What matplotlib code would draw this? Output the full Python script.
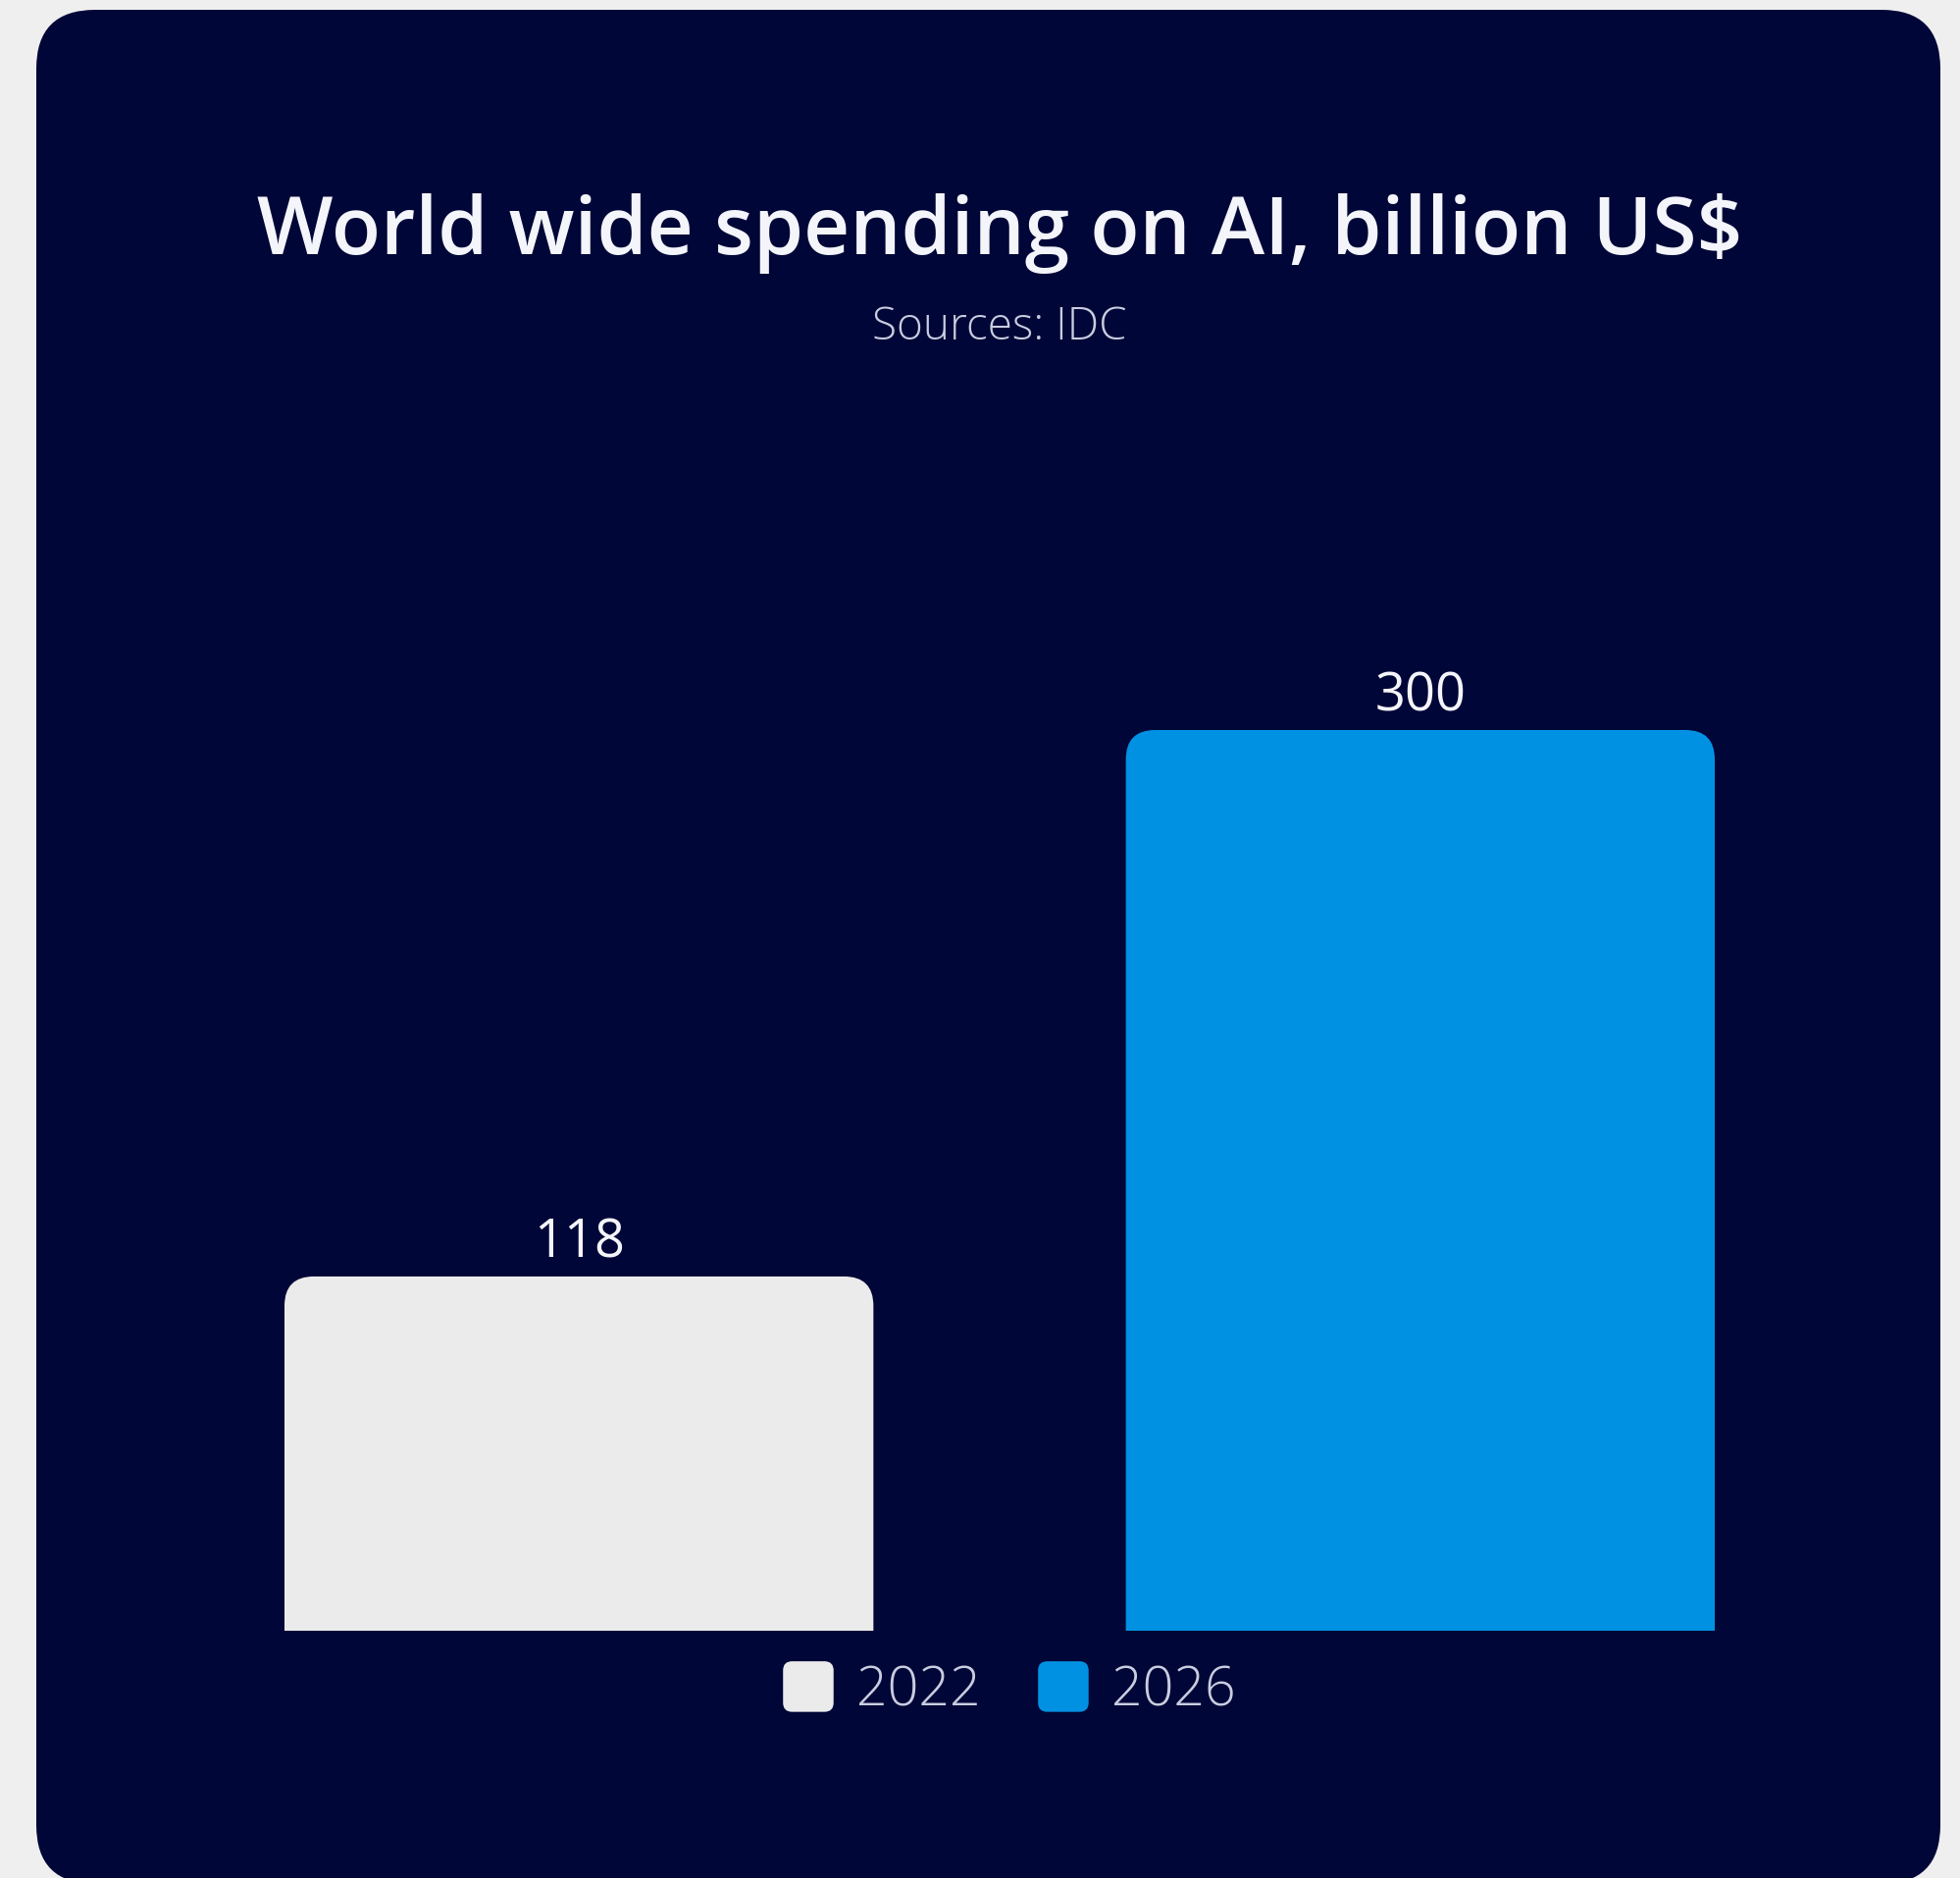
import matplotlib
matplotlib.use("Agg")
import matplotlib.pyplot as plt
from matplotlib.patches import FancyBboxPatch, PathPatch, Patch
from matplotlib.path import Path
from matplotlib.transforms import IdentityTransform
from matplotlib.legend_handler import HandlerPatch

# Data
years = ["2022", "2026"]
spending = [118, 300]
title = "World wide spending on AI, billion US$"
subtitle = "Sources: IDC"

# Style
PAGE_BG = "#efefef"
PANEL_BG = "#000637"
BAR_COLORS = ["#ebebeb", "#0091e3"]
TEXT_MAIN = "#f4f5fa"
TEXT_SOFT = "#c9cde0"
FONT = ["Open Sans", "DejaVu Sans"]

W, H = 1998, 1915
fig = plt.figure(figsize=(W / 100, H / 100), dpi=100)
fig.patch.set_facecolor(PAGE_BG)

# Rounded dark card behind everything
card = FancyBboxPatch((37, -6), 1978 - 37, H - 11 + 6,
                      boxstyle="round,pad=0,rounding_size=60",
                      facecolor=PANEL_BG, edgecolor="none",
                      transform=IdentityTransform(), zorder=0)
fig.add_artist(card)

fig.text(1019 / W, 1 - 238 / H, title, ha="center", va="center",
         color=TEXT_MAIN, fontsize=59, fontweight="semibold", family=FONT)
fig.text(1019 / W, 1 - 334 / H, subtitle, ha="center", va="center",
         color=TEXT_SOFT, fontsize=33, fontweight="light", family=FONT)

ax = fig.add_axes([290 / W, 252 / H, 1458 / W, 918 / H])
ax.set_facecolor("none")
ax.set_xlim(-0.35, 1.35)
ax.set_ylim(0, 300)
ax.axis("off")

x = list(range(len(years)))
bars = ax.bar(x, spending, width=0.70, color=BAR_COLORS, zorder=2)


def rounded_top(rect, radius):
    """Replace a bar rectangle with a path whose top corners are rounded."""
    x0, y0 = rect.get_x(), rect.get_y()
    x1, y1 = x0 + rect.get_width(), y0 + rect.get_height()
    (px0, py0), (px1, py1) = ax.transData.transform([[x0, y0], [x1, y1]])
    r = radius
    verts = [(px0, py0), (px0, py1 - r), (px0, py1), (px0 + r, py1),
             (px1 - r, py1), (px1, py1), (px1, py1 - r), (px1, py0), (px0, py0)]
    codes = [Path.MOVETO, Path.LINETO, Path.CURVE3, Path.CURVE3,
             Path.LINETO, Path.CURVE3, Path.CURVE3, Path.LINETO, Path.CLOSEPOLY]
    patch = PathPatch(Path(verts, codes), facecolor=rect.get_facecolor(),
                      edgecolor="none", transform=IdentityTransform(), zorder=2)
    rect.set_visible(False)
    fig.add_artist(patch)


for rect in bars:
    rounded_top(rect, 30)

for xi, val in zip(x, spending):
    ax.annotate(f"{val}", (xi, val), xytext=(0, 25), textcoords="offset points",
                ha="center", va="center", color=TEXT_MAIN, fontsize=39,
                family=FONT, annotation_clip=False)


class RoundedSquareHandler(HandlerPatch):
    def create_artists(self, legend, orig_handle, xdescent, ydescent,
                       width, height, fontsize, trans):
        s = min(width, height)
        p = FancyBboxPatch((-xdescent + (width - s) / 2, -ydescent + (height - s) / 2), s, s,
                           boxstyle=f"round,pad=0,rounding_size={s * 0.18}",
                           facecolor=orig_handle.get_facecolor(), edgecolor="none",
                           transform=trans)
        return [p]


handles = [Patch(facecolor=c, label=y) for c, y in zip(BAR_COLORS, years)]
leg = fig.legend(handles=handles, loc="center", ncol=2, frameon=False,
                 bbox_to_anchor=(1027 / W, 1 - 1723 / H),
                 prop={"family": FONT, "size": 40, "weight": "light"},
                 labelcolor=TEXT_SOFT, handlelength=1.05, handleheight=1.05,
                 handletextpad=0.35, columnspacing=1.0,
                 handler_map={Patch: RoundedSquareHandler()})

fig.savefig("out.png", dpi=100, facecolor=PAGE_BG)
